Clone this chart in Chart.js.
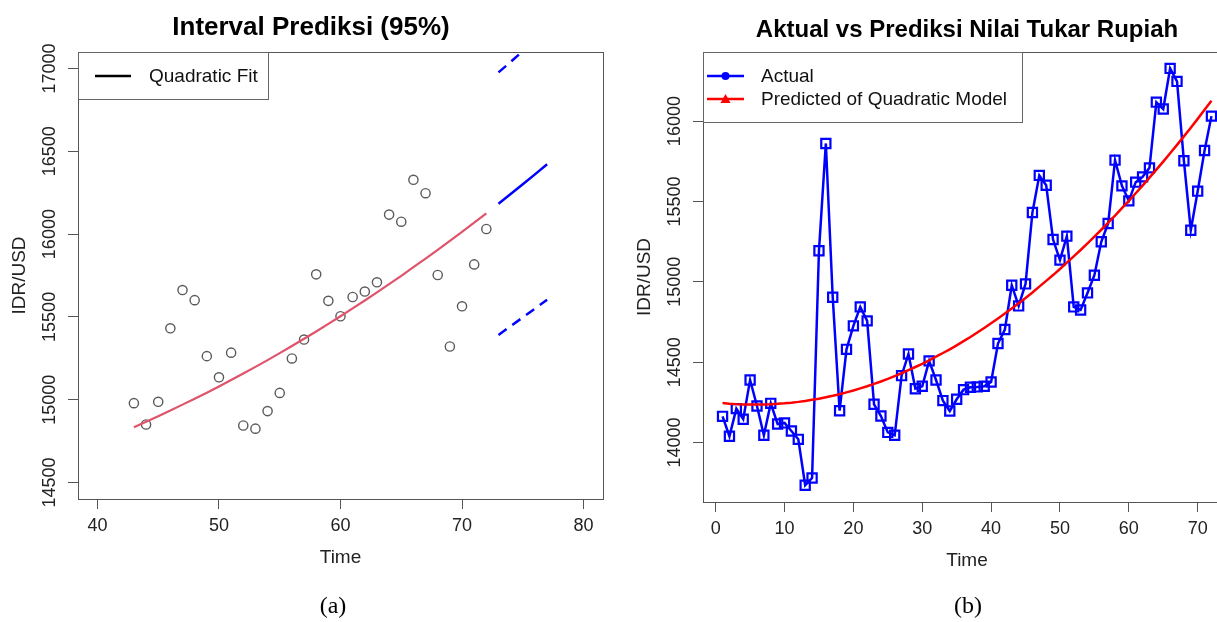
<!DOCTYPE html>
<html>
<head>
<meta charset="utf-8">
<script src="https://cdn.jsdelivr.net/npm/chart.js@4.4.1/dist/chart.umd.min.js"></script>
<style>
  html, body { margin: 0; padding: 0; background: #fff; overflow: hidden; }
  body { width: 1217px; height: 622px; position: relative; }
  #chartA { position: absolute; left: 0; top: 0; }
  #chartB { position: absolute; left: 620px; top: 0; }
  .cap {
    position: absolute; top: 591px; line-height: 28px;
    font-family: "Liberation Serif", "Times New Roman", serif; font-size: 24px; color: #000;
    transform: translateX(-50%);
  }
</style>
</head>
<body>
<canvas id="chartA" width="620" height="622"></canvas>
<canvas id="chartB" width="625" height="622"></canvas>
<div class="cap" style="left:333px">(a)</div>
<div class="cap" style="left:968px">(b)</div>
<script>
// monthly index (1..72)
const time = [1, 2, 3, 4, 5, 6, 7, 8, 9, 10, 11, 12, 13, 14, 15, 16, 17, 18, 19, 20, 21, 22, 23, 24,
  25, 26, 27, 28, 29, 30, 31, 32, 33, 34, 35, 36, 37, 38, 39, 40, 41, 42, 43, 44, 45, 46, 47, 48,
  49, 50, 51, 52, 53, 54, 55, 56, 57, 58, 59, 60, 61, 62, 63, 64, 65, 66, 67, 68, 69, 70, 71, 72];

// IDR/USD actual
const actual = [14163, 14039, 14211, 14145, 14389, 14227, 14045, 14244, 14115, 14122, 14072, 14020,
  13734, 13779, 15193, 15861, 14904, 14198, 14580, 14726, 14844, 14757, 14238, 14165,
  14063, 14045, 14416, 14551, 14335, 14350, 14508, 14389, 14261, 14196, 14269, 14329,
  14344, 14346, 14350, 14377, 14616, 14703, 14979, 14850, 14987, 15431, 15662, 15601,
  15263, 15135, 15284, 14844, 14825, 14931, 15041, 15249, 15363, 15757, 15597, 15504,
  15620, 15653, 15709, 16118, 16075, 16328, 16247, 15753, 15321, 15564, 15817, 16031];

// quadratic model fitted values
const predicted = [14246, 14242, 14239, 14237, 14236, 14236, 14237, 14238, 14241, 14244, 14248, 14253,
  14259, 14266, 14273, 14282, 14291, 14301, 14312, 14324, 14337, 14350, 14365, 14380,
  14396, 14413, 14431, 14450, 14470, 14490, 14511, 14534, 14557, 14580, 14605, 14631,
  14657, 14685, 14713, 14742, 14772, 14803, 14834, 14867, 14900, 14934, 14970, 15006,
  15042, 15080, 15119, 15158, 15198, 15239, 15281, 15324, 15368, 15412, 15458, 15504,
  15551, 15599, 15648, 15698, 15748, 15800, 15852, 15905, 15959, 16014, 16070, 16126];

// panel (a) shows the last part of the series
const firstShown = 43;

// forecast with 95% prediction interval
const forecastTime = [73, 74, 75, 76, 77];
const forecastFit = [16184, 16242, 16301, 16361, 16422];
const forecastLower = [15391, 15444, 15497, 15550, 15603];
const forecastUpper = [16977, 17040, 17105, 17172, 17241];

// tick labels
const xTicksA = [40, 50, 60, 70, 80];
const yTicksA = [14500, 15000, 15500, 16000, 16500, 17000];
const xTicksB = [0, 10, 20, 30, 40, 50, 60, 70];
const yTicksB = [14000, 14500, 15000, 15500, 16000];

const FONT = '"Liberation Sans", Arial, sans-serif';

function pts(xs, ys) {
  return xs.map((x, i) => ({ x: x, y: ys[i] }));
}

// R-style frame: box, rotated y labels, axis titles, title, legend
const rFrame = {
  id: 'rFrame',
  afterDraw(chart, args, o) {
    const { ctx, chartArea: a, scales } = chart;
    ctx.save();
    ctx.strokeStyle = '#555';
    ctx.lineWidth = 1;
    ctx.strokeRect(Math.round(a.left) + 0.5, Math.round(a.top) + 0.5,
      Math.round(a.right - a.left), Math.round(a.bottom - a.top));

    ctx.fillStyle = '#222';
    ctx.font = '18px ' + FONT;
    ctx.textAlign = 'center';
    ctx.textBaseline = 'middle';
    o.yTicks.forEach(v => {
      const y = scales.y.getPixelForValue(v);
      ctx.save();
      ctx.translate(a.left - 28, y);
      ctx.rotate(-Math.PI / 2);
      ctx.fillText(String(v), 0, 0);
      ctx.restore();
    });

    // axis titles
    ctx.font = '19px ' + FONT;
    ctx.save();
    ctx.translate(a.left - 58, (a.top + a.bottom) / 2);
    ctx.rotate(-Math.PI / 2);
    ctx.fillText('IDR/USD', 0, 0);
    ctx.restore();
    ctx.fillText('Time', (a.left + a.right) / 2, a.bottom + 59);

    // title
    ctx.fillStyle = '#000';
    ctx.font = 'bold ' + o.titleSize + 'px ' + FONT;
    ctx.fillText(o.title, o.titleX, o.titleY);

    // legend
    const lg = o.legend;
    ctx.strokeStyle = '#666';
    ctx.lineWidth = 1;
    ctx.fillStyle = '#fff';
    ctx.fillRect(a.left, a.top, lg.w, lg.h);
    ctx.strokeRect(Math.round(a.left) + 0.5, Math.round(a.top) + 0.5, lg.w, lg.h);
    ctx.font = '19px ' + FONT;
    ctx.textAlign = 'left';
    lg.items.forEach((it, i) => {
      const y = a.top + lg.y0 + i * lg.dy;
      ctx.strokeStyle = it.color;
      ctx.fillStyle = it.color;
      ctx.lineWidth = 2.5;
      ctx.beginPath();
      ctx.moveTo(a.left + lg.x0, y);
      ctx.lineTo(a.left + lg.x1, y);
      ctx.stroke();
      const cx = a.left + (lg.x0 + lg.x1) / 2;
      if (it.marker === 'circle') {
        ctx.beginPath();
        ctx.arc(cx, y, 4, 0, Math.PI * 2);
        ctx.fill();
      } else if (it.marker === 'triangle') {
        ctx.beginPath();
        ctx.moveTo(cx, y - 5);
        ctx.lineTo(cx + 5, y + 4);
        ctx.lineTo(cx - 5, y + 4);
        ctx.closePath();
        ctx.fill();
      }
      ctx.fillStyle = '#111';
      ctx.fillText(it.text, a.left + lg.tx, y + 1);
    });
    ctx.restore();
  }
};

function xScale(min, max, ticks) {
  return {
    type: 'linear', min: min, max: max,
    afterBuildTicks: s => { s.ticks = ticks.map(v => ({ value: v })); },
    afterFit: s => { s.height = 40; },
    grid: { display: true, drawOnChartArea: false, drawTicks: true, tickLength: 10, color: '#555' },
    border: { display: false },
    ticks: {
      color: '#222', padding: 6, maxRotation: 0, autoSkip: false,
      font: { family: FONT, size: 18 },
      callback: v => String(v)
    }
  };
}

function yScale(min, max, ticks, width) {
  return {
    type: 'linear', min: min, max: max,
    afterBuildTicks: s => { s.ticks = ticks.map(v => ({ value: v })); },
    afterFit: s => { s.width = width; },
    grid: { display: true, drawOnChartArea: false, drawTicks: true, tickLength: 10, color: '#555' },
    border: { display: false },
    ticks: { display: false }
  };
}

const shown = time.filter(t => t >= firstShown);
const shownIdx = time.indexOf(firstShown);

new Chart(document.getElementById('chartA'), {
  type: 'scatter',
  data: {
    datasets: [
      {
        label: 'Quadratic Fit',
        data: pts(shown, predicted.slice(shownIdx)),
        showLine: true, borderColor: '#DF536B', borderWidth: 2.2, pointRadius: 0, order: 0, clip: 0
      },
      {
        label: 'Forecast',
        data: pts(forecastTime, forecastFit),
        showLine: true, borderColor: '#0000FF', borderWidth: 2.5, pointRadius: 0, order: 1, clip: 0
      },
      {
        label: 'Lower',
        data: pts(forecastTime, forecastLower),
        showLine: true, borderColor: '#0000FF', borderWidth: 2.5, borderDash: [10, 7], pointRadius: 0, order: 1, clip: 0
      },
      {
        label: 'Upper',
        data: pts(forecastTime, forecastUpper),
        showLine: true, borderColor: '#0000FF', borderWidth: 2.5, borderDash: [10, 7], pointRadius: 0, order: 1, clip: 0
      },
      {
        label: 'Actual',
        data: pts(shown, actual.slice(shownIdx)),
        showLine: false, pointStyle: 'circle', pointRadius: 4.6,
        pointBorderColor: '#5a5a5a', pointBackgroundColor: 'rgba(0,0,0,0)', pointBorderWidth: 1.4, order: 2
      }
    ]
  },
  options: {
    responsive: false, animation: false, events: [],
    layout: { padding: { top: 52, left: 0, right: 17, bottom: 83 }, autoPadding: false },
    scales: { x: xScale(38.4, 81.6, xTicksA), y: yScale(14400, 17100, yTicksA, 78) },
    plugins: {
      legend: { display: false }, tooltip: { enabled: false },
      rFrame: {
        yTicks: yTicksA, title: 'Interval Prediksi (95%)', titleSize: 26, titleX: 311, titleY: 28,
        legend: {
          w: 190, h: 47, x0: 17, x1: 53, tx: 71, y0: 24, dy: 23,
          items: [{ text: 'Quadratic Fit', color: '#000' }]
        }
      }
    }
  },
  plugins: [rFrame]
});

new Chart(document.getElementById('chartB'), {
  type: 'scatter',
  data: {
    datasets: [
      {
        label: 'Predicted of Quadratic Model',
        data: pts(time, predicted),
        showLine: true, borderColor: '#FF0000', borderWidth: 2.5, pointRadius: 0, order: 0, clip: 0
      },
      {
        label: 'Actual',
        data: pts(time, actual),
        showLine: true, borderColor: '#0000FF', borderWidth: 2.5,
        pointStyle: 'rect', pointRadius: 6.5, pointBorderColor: '#0000FF',
        pointBackgroundColor: 'rgba(0,0,0,0)', pointBorderWidth: 2.2, order: 1, clip: 0
      }
    ]
  },
  options: {
    responsive: false, animation: false, events: [],
    layout: { padding: { top: 52, left: 0, right: 14, bottom: 80 }, autoPadding: false },
    scales: { x: xScale(-1.84, 74.84, xTicksB), y: yScale(13630, 16430, yTicksB, 83) },
    plugins: {
      legend: { display: false }, tooltip: { enabled: false },
      rFrame: {
        yTicks: yTicksB, title: 'Aktual vs Prediksi Nilai Tukar Rupiah', titleSize: 24, titleX: 347, titleY: 30,
        legend: {
          w: 319, h: 70, x0: 4, x1: 41, tx: 58, y0: 24, dy: 23,
          items: [
            { text: 'Actual', color: '#0000FF', marker: 'circle' },
            { text: 'Predicted of Quadratic Model', color: '#FF0000', marker: 'triangle' }
          ]
        }
      }
    }
  },
  plugins: [rFrame]
});
</script>
</body>
</html>
